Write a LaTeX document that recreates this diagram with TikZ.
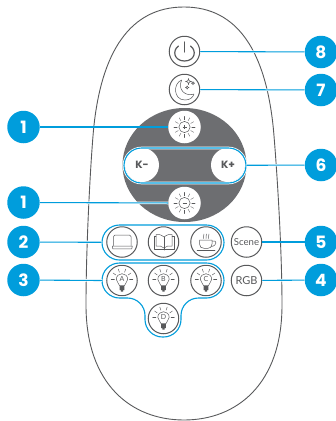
\documentclass[tikz,border=0pt]{standalone}
\usepackage{fontspec}
\setmainfont{Poppins}
\newfontfamily\keyfont{Lato}
\usetikzlibrary{shapes.geometric}
\definecolor{badgeblue}{HTML}{009DDC}
\definecolor{keygray}{HTML}{58595B}
\definecolor{dialgray}{HTML}{6D6E71}
\tikzset{
  badge/.style={circle,fill=badgeblue,text=white,minimum size=32.5pt,inner sep=0pt,font=\fontsize{17}{17}\selectfont\bfseries},
  key/.style={circle,draw=keygray,line width=1pt,fill=white,minimum size=30.5pt,inner sep=0pt,text=keygray},
  softkey/.style={circle,fill=white,minimum size=32.5pt,inner sep=0pt,text=keygray},
  kkey/.style={softkey,minimum size=34pt,font=\fontsize{10.5}{11}\selectfont\bfseries},
  halo/.style={preaction={draw,white,line width=2.6pt}},
  link/.style={draw=badgeblue,line width=1.1pt,halo},
  group/.style={rectangle,draw=badgeblue,line width=1.1pt,rounded corners=17.5pt,minimum height=35pt,inner sep=0pt},
  icon/.style={draw=keygray,line width=0.5pt,line cap=round,line join=round},
  ray/.style={draw=keygray,line width=0.35pt,line cap=round}
}
\newcommand{\sunicon}[2]{%
  \begin{scope}[shift={(#1)}]
    \draw[icon] (0,0) circle (5.6pt);
    \foreach \a in {0,30,...,330} \draw[ray] (\a:7.2pt) -- (\a:10.6pt);
    #2
  \end{scope}}
\newcommand{\bulbicon}[2]{%
  \begin{scope}[shift={(#1)}]
    \draw[icon] (-2.4,5.2) .. controls (-2.6,2.5) and (-5.7,2) .. (-5.7,-1.2) .. controls (-5.7,-4.6) and (-3,-6.8) .. (0,-6.8) .. controls (3,-6.8) and (5.7,-4.6) .. (5.7,-1.2) .. controls (5.7,2) and (2.6,2.5) .. (2.4,5.2) -- cycle;
    \fill[keygray] (-2.4,5.6) rectangle (2.4,9.6) (-1.1,9.6) rectangle (1.1,11);
    \foreach \a in {0,35,70,110,145,180} \draw[ray,line width=0.45pt] ($(0,-1.2)+(\a:7.6pt)$) -- ($(0,-1.2)+(\a:10.8pt)$);
    \node[text=keygray,inner sep=0pt,font=\keyfont\fontsize{7}{7}\selectfont] (lamp#2) at (0,-1.2) {#2};
  \end{scope}}
\usetikzlibrary{calc}
\begin{document}
\begin{tikzpicture}[x=1pt,y=-1pt]
\useasboundingbox (0,0) rectangle (336,421);

% remote body
\draw[draw=keygray,line width=0.9pt] (184,7) .. controls (238,7) and (266,52) .. (273.5,130) .. controls (277,170) and (282,250) .. (282,305) .. controls (282,385) and (236,420) .. (184,420) .. controls (132,420) and (86,385) .. (86,305) .. controls (86,250) and (90,170) .. (93.5,130) .. controls (101,52) and (130,7) .. (184,7) -- cycle;
\node[ellipse,fill=dialgray,minimum width=124pt,minimum height=114pt,inner sep=0pt] (dial) at (184.5,165) {};

% keys
\node[key] (power) at (184.5,51.5) {};
\node[key] (moon) at (184.5,89.5) {};
\node[softkey] (brightup) at (184.5,127) {};
\node[softkey] (brightdown) at (184.5,203) {};
\node[kkey] (kminus) at (142,165) {K\raisebox{0.5pt}{-}};
\node[kkey] (kplus) at (228,165) {K+};
\node[key] (laptop) at (122,242) {};
\node[key] (book) at (163.5,242) {};
\node[key] (cup) at (206,242) {};
\node[key,font=\keyfont\fontsize{9.6}{10}\selectfont] (scene) at (246.5,242) {Scene};
\node[key] (lampa) at (122,280.5) {};
\node[key] (lampb) at (163.5,280.5) {};
\node[key] (lampc) at (206,280.5) {};
\node[key] (lampd) at (163.5,318.5) {};
\node[key,font=\keyfont\fontsize{11}{11}\selectfont] (rgb) at (246.5,280.5) {RGB};

% groups
\node[group,minimum width=122pt,halo] (kpill) at (185,165.5) {};
\node[group,minimum width=122pt] (scenepill) at (163,242.5) {};
\coordinate (lampleft) at (102,280.5);
\path[link,rounded corners=17.5pt] (163,263) -- (224,263) -- (224,298) -- (181,298) -- (181,337) -- (145,337) -- (145,298) -- (102,298) -- (102,263) -- cycle;

% badges
\node[badge] (b8) at (321,52) {8};
\node[badge] (b7) at (321,90) {7};
\node[badge] (b1a) at (23.5,127) {1};
\node[badge] (b6) at (321,165) {6};
\node[badge] (b1b) at (23.5,202.5) {1};
\node[badge] (b2) at (23.5,242) {2};
\node[badge] (b3) at (23.5,280) {3};
\node[badge] (b5) at (321,242) {5};
\node[badge] (b4) at (321,280) {4};

\path[link] (b8) -- (power);
\path[link] (b7) -- (moon);
\path[link] (b1a) -- (brightup);
\path[link] (b6) -- (kpill);
\path[link] (b1b) -- (brightdown);
\path[link] (b2) -- (scenepill);
\path[link] (b3) -- (lampleft);
\path[link] (b5) -- (scene);
\path[link] (b4) -- (rgb);

% icons
\draw[keygray,line width=1.2pt,line cap=round] (184.5,42) -- (184.5,52);
\draw[keygray,line width=1.2pt,line cap=round] (178.5,46) .. controls (172,50.5) and (174,61) .. (184.5,61) .. controls (195,61) and (197,50.5) .. (190.5,46);
\draw[icon] (181.7,80) .. controls (173,83) and (173,100) .. (185,100) .. controls (190,100) and (193,97.5) .. (194,94) .. controls (186,97) and (177,90) .. (181.7,80) -- cycle;
\draw[icon] (188.5,78.5) -- (189.2,80.8) -- (191.5,81.5) -- (189.2,82.2) -- (188.5,84.5) -- (187.8,82.2) -- (185.5,81.5) -- (187.8,80.8) -- cycle;
\draw[icon] (193,81.5) -- (193.5,82.7) -- (194.7,83.2) -- (193.5,83.7) -- (193,84.9) -- (192.5,83.7) -- (191.3,83.2) -- (192.5,82.7) -- cycle;
\draw[icon] (187.2,85.8) -- (187.8,87) -- (189,87.5) -- (187.8,88) -- (187.2,89.2) -- (186.6,88) -- (185.4,87.5) -- (186.6,87) -- cycle;

\sunicon{184.5,127}{\draw[keygray,line width=0.8pt] (-2,0) -- (2,0) (0,-2) -- (0,2);}
\sunicon{184.5,203}{\draw[keygray,line width=0.8pt] (-2,0) -- (2,0);}

% laptop
\draw[icon] (113.5,245.5) -- (113.5,236.5) .. controls (113.5,235.5) and (114,235) .. (115,235) -- (129.5,235) .. controls (130.5,235) and (131,235.5) .. (131,236.5) -- (131,245.5);
\draw[icon] (112.3,246) -- (132.3,246) -- (131.8,248.8) -- (112.8,248.8) -- cycle;
% book
\draw[icon] (164,237) .. controls (161,234.5) and (158,234) .. (156,234.5) -- (156,246) .. controls (159,245.5) and (162,246) .. (164,248) .. controls (166,246) and (169,245.5) .. (172,246) -- (172,234.5) .. controls (170,234) and (167,234.5) .. (164,237) -- cycle;
\draw[icon] (164,237) -- (164,250);
\draw[icon] (156,236.5) -- (154.3,236.5) -- (154.3,248.8) -- (173.8,248.8) -- (173.8,236.5) -- (172,236.5);
% cup
\draw[icon] (199.5,240) -- (212,240) -- (212,244) .. controls (212,247) and (210,248.3) .. (208,248.3) -- (204,248.3) .. controls (201.5,248.3) and (199.5,247) .. (199.5,244) -- cycle;
\draw[icon] (212,241) .. controls (217.5,239.5) and (217.5,246) .. (211,246.5);
\draw[icon] (197,250.5) -- (215,250.5);
\draw[icon] (203.5,238.5) .. controls (202.5,236.5) and (204.5,236) .. (204,234) (206,238.5) .. controls (205,236.5) and (207,236) .. (206.5,234) (208.5,238.5) .. controls (207.5,236.5) and (209.5,236) .. (209,234);

\bulbicon{122,280.5}{A}
\bulbicon{163.5,280.5}{B}
\bulbicon{206,280.5}{C}
\bulbicon{163.5,318.5}{D}
\end{tikzpicture}
\end{document}
